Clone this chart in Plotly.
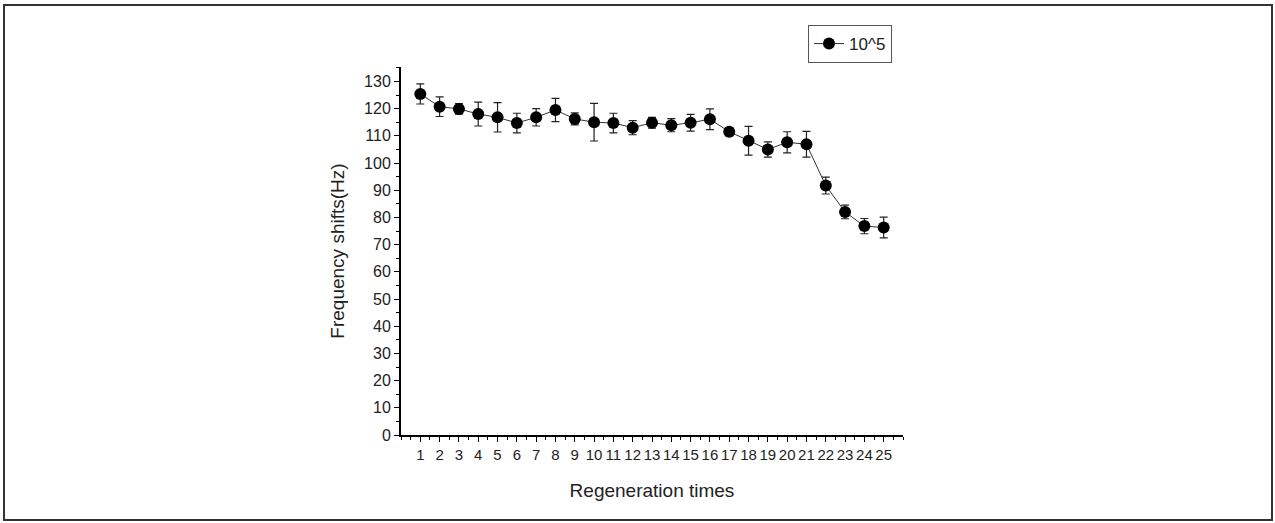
import plotly.graph_objects as go

# Regeneration cycles and measured frequency shifts (mean ± error)
regeneration = list(range(1, 26))
freq_shift = [125.4, 120.7, 119.9, 118.0, 116.8, 114.7, 116.8, 119.5, 116.2, 115.0,
              114.7, 113.0, 114.8, 113.9, 114.8, 116.1, 111.5, 108.2, 105.0, 107.6,
              106.9, 91.7, 82.0, 76.8, 76.3]
freq_err = [3.7, 3.6, 1.9, 4.4, 5.4, 3.6, 3.2, 4.3, 2.2, 6.9,
            3.6, 2.6, 2.0, 2.4, 3.1, 3.8, 1.5, 5.3, 2.8, 3.9,
            4.7, 3.1, 2.5, 2.8, 3.8]
series_name = "10^5"
x_title = "Regeneration times"
y_title = "Frequency shifts(Hz)"

FONT = "Arial, 'Liberation Sans', sans-serif"

fig = go.Figure()
fig.add_trace(go.Scatter(
    x=regeneration, y=freq_shift, name=series_name,
    mode="lines+markers",
    line=dict(color="#333333", width=1),
    marker=dict(color="black", size=12, symbol="circle"),
    error_y=dict(type="data", array=freq_err, visible=True,
                 color="#222222", thickness=1.2, width=4),
    showlegend=True,
))

# plot area in pixels
W, H = 1275, 523
L, R, T, B = 401, 903, 67, 435
pw, ph = R - L, B - T

def px_x(p):
    return (p - L) / pw

def px_y(p):
    return (B - p) / ph

# outer frame around the whole figure
fig.add_shape(type="rect", xref="paper", yref="paper",
              x0=px_x(4), x1=px_x(1272), y0=px_y(520), y1=px_y(5),
              line=dict(color="#333333", width=2), fillcolor="rgba(0,0,0,0)")

fig.update_layout(
    width=W, height=H,
    margin=dict(l=L, r=W - R, t=T, b=H - B, pad=0),
    paper_bgcolor="white", plot_bgcolor="white",
    font=dict(family=FONT, size=16, color="#222222"),
    showlegend=True,
    legend=dict(x=px_x(808), y=px_y(25), xanchor="left", yanchor="top",
                bordercolor="#555555", borderwidth=1, bgcolor="white",
                font=dict(size=17, color="#222222"),
                itemsizing="trace", tracegroupgap=0),
    xaxis=dict(
        range=[0, 26], tickmode="array", tickvals=regeneration,
        ticktext=[str(v) for v in regeneration], tickangle=0,
        showline=True, linecolor="black", linewidth=2,
        ticks="outside", ticklen=5, tickwidth=1, tickcolor="black",
        showgrid=False, zeroline=False,
        tickfont=dict(size=15, color="#222222"),
        minor=dict(dtick=0.5, tick0=0.5, ticks="outside", ticklen=3,
                   tickwidth=1, tickcolor="black", showgrid=False),
        title=dict(text=x_title, font=dict(size=19, color="#222222"), standoff=22),
    ),
    yaxis=dict(
        range=[0, 135.3], tickmode="linear", tick0=0, dtick=10,
        showline=True, linecolor="black", linewidth=2,
        ticks="outside", ticklen=5, tickwidth=1, tickcolor="black",
        showgrid=False, zeroline=False,
        tickfont=dict(size=16, color="#222222"),
        minor=dict(dtick=5, ticks="outside", ticklen=3,
                   tickwidth=1, tickcolor="black", showgrid=False),
        title=dict(text=y_title, font=dict(size=19, color="#222222"), standoff=14),
    ),
)

fig.write_html("out.html")
